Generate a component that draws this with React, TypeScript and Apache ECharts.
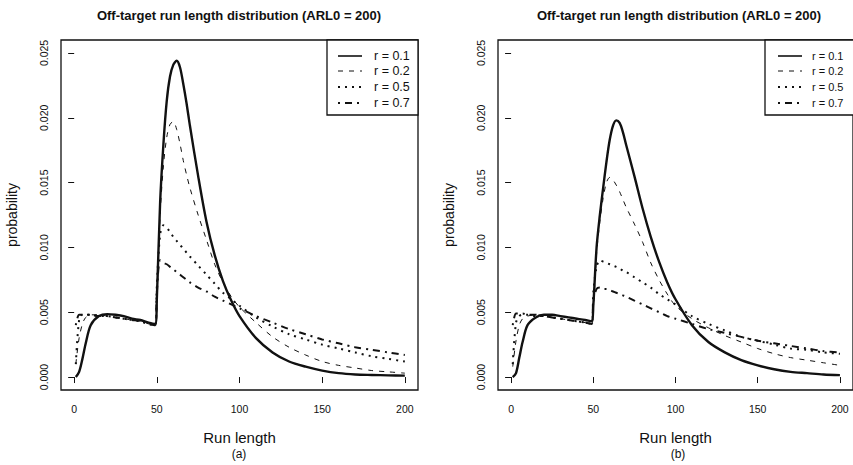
import React, { useEffect, useRef } from "react";
import * as echarts from "echarts";

// Run length grid (x positions)
const RUN_LENGTH = [1, 3, 5, 7, 10, 15, 20, 25, 30, 35, 40, 45, 49, 50, 52, 54, 56, 58, 60, 62, 64, 66, 68, 70, 75, 80, 85, 90, 95, 100, 110, 120, 130, 140, 150, 160, 170, 180, 190, 200];

// Panel (a)
const A_R01 = [0, 0.0004, 0.0014, 0.0026, 0.004, 0.0047, 0.00485, 0.0048, 0.0047, 0.0045, 0.0044, 0.0042, 0.0041, 0.006, 0.0135, 0.018, 0.0213, 0.0232, 0.0241, 0.0244, 0.0239, 0.0226, 0.0211, 0.0194, 0.0155, 0.012, 0.0094, 0.0074, 0.0059, 0.0047, 0.003, 0.0019, 0.0012, 0.0008, 0.0005, 0.0003, 0.0002, 0.00016, 0.00013, 0.00011];
const A_R02 = [0.001, 0.003, 0.0041, 0.0046, 0.0048, 0.0048, 0.0047, 0.0046, 0.0045, 0.0044, 0.0043, 0.0041, 0.004, 0.0058, 0.0125, 0.0163, 0.0185, 0.0195, 0.0197, 0.0191, 0.018, 0.0167, 0.0156, 0.0146, 0.0125, 0.0106, 0.0087, 0.0073, 0.0062, 0.0054, 0.0042, 0.0031, 0.0023, 0.0017, 0.0012, 0.0009, 0.0007, 0.0005, 0.0004, 0.0003];
const A_R05 = [0.001, 0.0044, 0.0048, 0.0048, 0.0048, 0.0047, 0.0047, 0.0046, 0.0045, 0.0044, 0.0043, 0.0041, 0.004, 0.007, 0.011, 0.0117, 0.0115, 0.0112, 0.0108, 0.0105, 0.0102, 0.0099, 0.0096, 0.0093, 0.0086, 0.0079, 0.0072, 0.0065, 0.006, 0.0055, 0.0046, 0.0039, 0.0033, 0.0029, 0.0025, 0.0022, 0.0019, 0.0016, 0.0014, 0.0012];
const A_R07 = [0.004, 0.0048, 0.0048, 0.0048, 0.0048, 0.0047, 0.0047, 0.0046, 0.0045, 0.0044, 0.0043, 0.0041, 0.004, 0.0065, 0.009, 0.0088, 0.0087, 0.0085, 0.0083, 0.0081, 0.0079, 0.0077, 0.0075, 0.0073, 0.0069, 0.0066, 0.0062, 0.0059, 0.0056, 0.0053, 0.0047, 0.0042, 0.0037, 0.0033, 0.0029, 0.0026, 0.0023, 0.0021, 0.0019, 0.0017];

// Panel (b)
const B_R01 = [0, 0.0003, 0.0015, 0.0027, 0.004, 0.0046, 0.0048, 0.0048, 0.0047, 0.0046, 0.0045, 0.0044, 0.0043, 0.0055, 0.01, 0.0125, 0.0146, 0.0166, 0.0183, 0.0194, 0.0198, 0.0196, 0.0189, 0.0179, 0.0155, 0.013, 0.0108, 0.0089, 0.0073, 0.006, 0.004, 0.0027, 0.0019, 0.0013, 0.0009, 0.0006, 0.0004, 0.0003, 0.0002, 0.00015];
const B_R02 = [0.0008, 0.0028, 0.004, 0.0045, 0.0047, 0.0048, 0.0047, 0.0046, 0.0045, 0.0044, 0.0043, 0.0042, 0.0041, 0.0052, 0.0095, 0.012, 0.0138, 0.015, 0.0154, 0.0152, 0.0148, 0.0143, 0.0137, 0.0131, 0.0118, 0.0104, 0.0088, 0.0075, 0.0064, 0.0055, 0.0045, 0.0038, 0.0032, 0.0027, 0.0022, 0.0018, 0.0015, 0.0013, 0.0011, 0.0009];
const B_R05 = [0.001, 0.0042, 0.0047, 0.0048, 0.0048, 0.0047, 0.0047, 0.0046, 0.0045, 0.0044, 0.0043, 0.0042, 0.0041, 0.0065, 0.0085, 0.009, 0.0089, 0.0088, 0.0087, 0.0086, 0.0085, 0.0084, 0.0082, 0.0081, 0.0077, 0.0073, 0.0069, 0.0064, 0.006, 0.0056, 0.0047, 0.0041, 0.0036, 0.0031, 0.0028, 0.0025, 0.0022, 0.0021, 0.0019, 0.0018];
const B_R07 = [0.004, 0.0049, 0.0049, 0.0049, 0.0048, 0.0048, 0.0047, 0.0046, 0.0045, 0.0044, 0.0043, 0.0042, 0.0041, 0.0058, 0.0068, 0.0069, 0.0068, 0.0068, 0.0067, 0.0066, 0.0065, 0.0064, 0.0063, 0.0062, 0.0059, 0.0056, 0.0053, 0.005, 0.0047, 0.0045, 0.0041, 0.0037, 0.0034, 0.0031, 0.0028, 0.0026, 0.0024, 0.0022, 0.002, 0.0019];

const SERIES_NAMES = ["r = 0.1", "r = 0.2", "r = 0.5", "r = 0.7"];
const X_TICKS = [0, 50, 100, 150, 200];
const Y_TICKS = [0, 0.005, 0.01, 0.015, 0.02, 0.025];
const TITLE = "Off-target run length distribution (ARL0 = 200)";
const PANEL_TAGS = ["(a)", "(b)"];

const FONT = "'Liberation Sans', Arial, Helvetica, sans-serif";
const INK = "#111";

const LINE_STYLES = [
  { width: 2.4, dash: null as number[] | null },
  { width: 1, dash: [5, 6] },
  { width: 2, dash: [2, 5] },
  { width: 2, dash: [2, 5, 7, 5] },
];

export default function App() {
  const ref = useRef<HTMLDivElement>(null);

  useEffect(() => {
    document.body.style.margin = "0";
    if (!ref.current) return;
    const chart = echarts.init(ref.current, null, { renderer: "svg" });

    const panels = [
      [A_R01, A_R02, A_R05, A_R07],
      [B_R01, B_R02, B_R05, B_R07],
    ];

    const series: any[] = [];
    panels.forEach((arrs, p) => {
      arrs.forEach((arr, i) => {
        const ls = LINE_STYLES[i];
        series.push({
          type: "line",
          name: SERIES_NAMES[i],
          xAxisIndex: p,
          yAxisIndex: p,
          data: RUN_LENGTH.map((x, k) => [x, arr[k]]),
          symbol: "none",
          showSymbol: false,
          smooth: 0.3,
          lineStyle: { color: INK, width: ls.width, type: ls.dash ? ls.dash : "solid" },
          itemStyle: { color: INK },
          z: 10 - i,
        });
      });
    });

    const mkX = (idx: number) => ({
      type: "value",
      gridIndex: idx,
      min: -7.96,
      max: 207.96,
      axisLine: { show: false },
      splitLine: { show: false },
      axisTick: { show: true, customValues: X_TICKS, length: 6, lineStyle: { color: INK, width: 1 } },
      axisLabel: { customValues: X_TICKS, margin: 13, fontSize: 10.5, color: INK, fontFamily: FONT },
      name: "Run length",
      nameLocation: "middle",
      nameGap: 40,
      nameTextStyle: { fontSize: 15, color: INK, fontFamily: FONT },
    });

    const mkY = (idx: number) => ({
      type: "value",
      gridIndex: idx,
      min: -0.001,
      max: 0.026,
      axisLine: { show: false },
      splitLine: { show: false },
      axisTick: { show: true, customValues: Y_TICKS, length: 6, lineStyle: { color: INK, width: 1 } },
      axisLabel: {
        customValues: Y_TICKS,
        rotate: 90,
        margin: 12,
        fontSize: 10.5,
        color: INK,
        fontFamily: FONT,
        formatter: (v: number) => v.toFixed(3),
      },
      name: "probability",
      nameLocation: "middle",
      nameGap: 42,
      nameTextStyle: { fontSize: 14, color: INK, fontFamily: FONT },
    });

    // R-style legend boxes drawn with graphic elements
    const legendSpecs = [
      { boxX: 327, boxW: 91, lineX: 338, textX: 374, fontSize: 12.5 },
      { boxX: 765, boxW: 100, lineX: 778, textX: 812, fontSize: 11 },
    ];
    const rowY = [56, 71, 87, 103];
    const legendEls: any[] = [];
    legendSpecs.forEach((s) => {
      legendEls.push({
        type: "rect",
        shape: { x: s.boxX, y: 40, width: s.boxW, height: 75 },
        style: { fill: "#fff", stroke: INK, lineWidth: 1.3 },
        z: 100,
      });
      SERIES_NAMES.forEach((nm, i) => {
        const ls = LINE_STYLES[i];
        legendEls.push({
          type: "line",
          shape: { x1: s.lineX, y1: rowY[i], x2: s.lineX + 24, y2: rowY[i] },
          style: { stroke: INK, lineWidth: ls.width === 2.4 ? 1.6 : ls.width, lineDash: ls.dash || undefined },
          z: 101,
        });
        legendEls.push({
          type: "text",
          x: s.textX,
          y: rowY[i],
          style: { text: nm, font: `${s.fontSize}px ${FONT}`, fill: INK, align: "left", verticalAlign: "middle", textAlign: "left", textVerticalAlign: "middle" },
          z: 101,
        });
      });
    });

    const centered = (text: string, x: number, y: number, font: string) => ({
      type: "text",
      x,
      y,
      style: { text, font, fill: INK, align: "center", verticalAlign: "middle", textAlign: "center", textVerticalAlign: "middle" },
    });

    chart.setOption({
      animation: false,
      backgroundColor: "#fff",
      grid: [
        { left: 61, top: 40, width: 357, height: 350, show: true, borderColor: INK, borderWidth: 1.3, backgroundColor: "transparent" },
        { left: 498, top: 40, width: 359, height: 350, show: true, borderColor: INK, borderWidth: 1.3, backgroundColor: "transparent" },
      ],
      xAxis: [mkX(0), mkX(1)],
      yAxis: [mkY(0), mkY(1)],
      graphic: [
        centered(TITLE, 239, 15, `bold 13px ${FONT}`),
        centered(TITLE, 679, 15, `bold 13px ${FONT}`),
        centered(PANEL_TAGS[0], 239, 454, `12px ${FONT}`),
        centered(PANEL_TAGS[1], 678, 454, `12px ${FONT}`),
        ...legendEls,
      ],
      series,
    });

    return () => chart.dispose();
  }, []);

  return <div ref={ref} style={{ width: 853, height: 465 }} />;
}
